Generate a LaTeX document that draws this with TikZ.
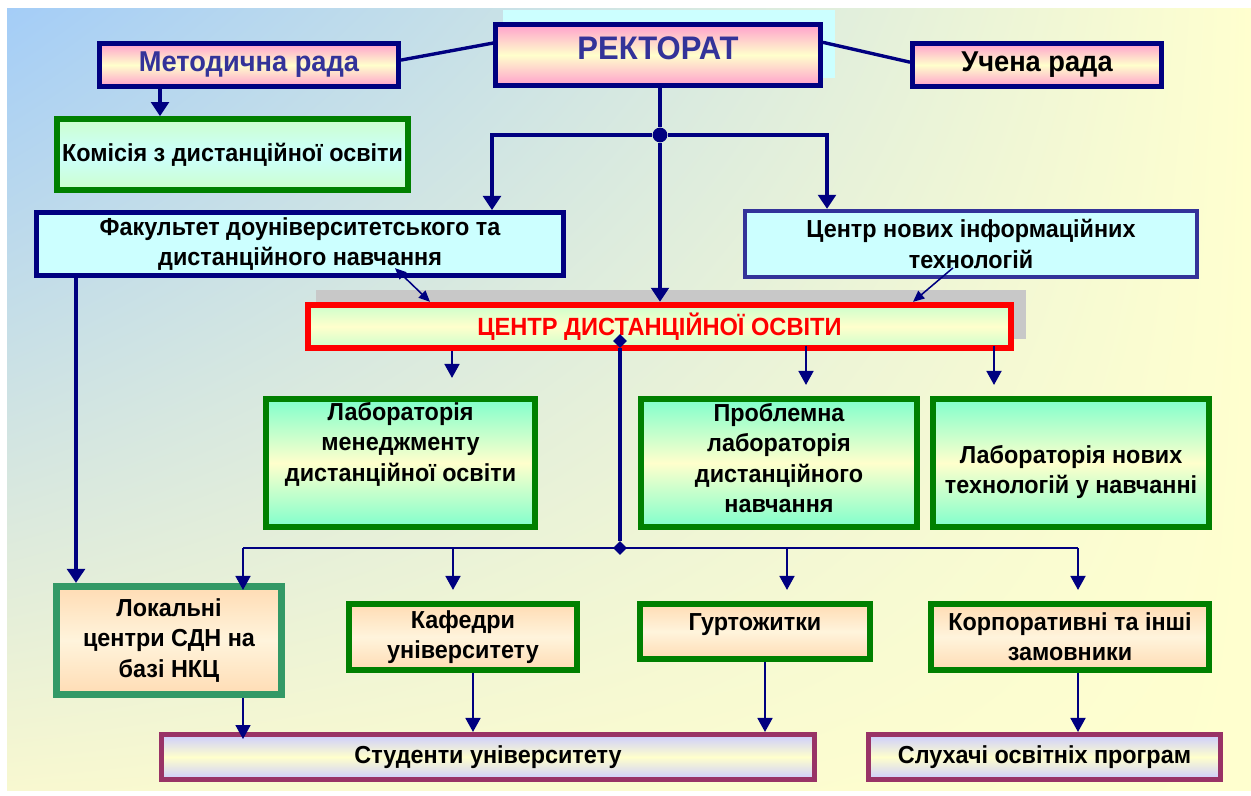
\documentclass[tikz,border=0pt]{standalone}
\usepackage{fontspec}
\setmainfont{Liberation Sans}[FakeStretch=0.95]
\usetikzlibrary{arrows.meta,shapes.geometric,shadings}
\definecolor{navyline}{HTML}{000080}
\definecolor{slateblue}{HTML}{333399}
\definecolor{darkgreen}{HTML}{008000}
\definecolor{seagreen}{HTML}{339966}
\definecolor{plum}{HTML}{993366}
\definecolor{pinkfill}{HTML}{FFA0CC}
\definecolor{paleyellow}{HTML}{FFFFCC}
\definecolor{palecyan}{HTML}{CCFFFF}
\definecolor{palegreen}{HTML}{CCFFCC}
\definecolor{aqua}{HTML}{80FFCC}
\definecolor{peach}{HTML}{FFDCB4}
\definecolor{lightpeach}{HTML}{FFF4DC}
\definecolor{lavender}{HTML}{CCCCFF}
\definecolor{bgblue}{HTML}{A4CDF7}
\definecolor{bgyellow}{HTML}{FFFFCF}
\definecolor{bgmid}{HTML}{F8F8D0}
\definecolor{shadowgray}{HTML}{C8C8C8}

\begin{document}
\begin{tikzpicture}[x=0.025cm,y=-0.025cm,
    box/.style={draw, align=center, inner sep=2pt, font=\bfseries\fontsize{17.5}{21.5}\selectfont},
    size/.style 2 args={minimum width=#1*0.025cm, minimum height=#2*0.025cm},
    pinkbox/.style={box, draw=navyline, line width=3.5pt, top color=pinkfill, bottom color=pinkfill, middle color=paleyellow, font=\bfseries\fontsize{20.4}{24}\selectfont},
    cyanbox/.style={box, draw=navyline, line width=3.5pt, fill=palecyan},
    greenbox/.style={box, draw=darkgreen, line width=4pt, top color=palegreen, bottom color=palegreen, middle color=palecyan},
    labbox/.style={box, draw=darkgreen, line width=4pt, top color=aqua, bottom color=aqua, middle color=paleyellow},
    peachbox/.style={box, draw=darkgreen, line width=4pt, top color=peach, bottom color=peach, middle color=lightpeach},
    studbox/.style={box, draw=plum, line width=3.5pt, top color=lavender, bottom color=lavender, middle color=paleyellow},
    link/.style={draw=navyline, line width=2pt},
    arrow/.style={link, line width=1.8pt, -{Triangle[length=10pt,width=10.5pt]}},
    bigarrow/.style={link, line width=2.6pt, -{Triangle[length=10pt,width=12.5pt]}},
    thinarrow/.style={link, line width=1.1pt, -{Triangle[length=8pt,width=7pt]}},
    dot/.style={circle, fill=navyline, inner sep=0pt, minimum size=10.5pt},
    dmd/.style={diamond, fill=navyline, inner sep=0pt, minimum size=10pt}
]
\useasboundingbox (0,0) rectangle (1251,796);
\fill[white] (0,0) rectangle (1251,796);
\shade[upper left=bgblue, upper right=bgyellow, lower left=bgmid, lower right=bgyellow] (7,8) rectangle (1251,790);

% top level
\fill[palecyan] (503,10) rectangle (835,78);
\node[pinkbox, size={325}{61}, text=slateblue, text depth=10pt, font=\bfseries\fontsize{23.2}{27}\selectfont] (rect) at (658,55) {РЕКТОРАТ};
\node[pinkbox, size={299}{43}, text=slateblue] (metod) at (249,65) {Методична рада};
\node[pinkbox, size={249}{43}] (uchena) at (1037,65) {Учена рада};
\node[greenbox, size={351}{71}] (komis) at (232.5,154.5) {Комісія з дистанційної освіти};

\node[cyanbox, size={527}{63}] (fak) at (300,244) {Факультет доуніверситетського та\\дистанційного навчання};
\node[cyanbox, draw=slateblue, line width=3pt, size={452}{66}] (cnit) at (971,244) {Центр нових інформаційних\\технологій};

% centre
\fill[shadowgray] (316,290) rectangle (1026,339);
\node[box, draw=red, line width=4.5pt, size={703}{43}, top color=palegreen, bottom color=palegreen, middle color=paleyellow, text=red, font=\bfseries\fontsize{17.7}{21}\selectfont] (cdo) at (659.5,326.5) {ЦЕНТР ДИСТАНЦІЙНОЇ ОСВІТИ};

\node[labbox, size={269}{128}, text depth=30pt] (lab1) at (400.5,463) {Лабораторія\\менеджменту\\дистанційної освіти};
\node[labbox, size={276}{128}, text depth=7pt] (lab2) at (779,463) {Проблемна\\лабораторія\\дистанційного\\навчання};
\node[labbox, size={276}{128}, text height=47pt] (lab3) at (1071,463) {Лабораторія нових\\технологій у навчанні};

% bottom row
\node[peachbox, draw=seagreen, line width=5pt, size={225}{108}] (lok) at (169,640.5) {Локальні\\центри СДН на\\базі НКЦ};
\node[peachbox, size={228}{66}] (kaf) at (463,637) {Кафедри\\університету};
\node[peachbox, size={230}{55}, text depth=14pt] (gurt) at (755,631.5) {Гуртожитки};
\node[peachbox, size={278}{66}] (korp) at (1070,637) {Корпоративні та інші\\замовники};

\node[studbox, size={653}{45}] (stud) at (488,757) {Студенти університету};
\node[studbox, size={352}{45}] (sluh) at (1044.5,757) {Слухачі освітніх програм};

% connectors
\coordinate (xm) at (160,0);
\coordinate (xl) at (76,0);
\coordinate (bl) at (492,135);
\coordinate (br) at (827,135);
\coordinate (fa) at (395,0);
\coordinate (ca) at (430,0);
\coordinate (na) at (953,0);
\coordinate (cb) at (913,0);
\coordinate (e1) at (452,378);
\coordinate (e2) at (806,385);
\coordinate (e3) at (994,385);
\coordinate (bus1) at (243,548);
\coordinate (bus2) at (1078,548);
\coordinate (k1) at (453,590);
\coordinate (k2) at (787,590);
\coordinate (k3) at (1078,590);
\coordinate (s1) at (473,0);
\coordinate (s2) at (765,0);

\draw[link, line width=2.4pt] ([yshift=3.5pt]metod.east) -- ([yshift=8.5pt]rect.west);
\draw[link, line width=2.4pt] ([yshift=9pt]rect.east) -- ([yshift=2pt]uchena.west);
\draw[bigarrow] (xm |- metod.south) -- (xm |- komis.north);

\node[dot] (dot) at (660,135) {};
\draw[link, line width=3.5pt] (rect.south -| dot) -- (dot);
\draw[bigarrow, line width=3.2pt] (dot) -- (dot |- cdo.north);
\draw[bigarrow] (dot) -- (bl) -- (bl |- fak.north);
\draw[bigarrow] (dot) -- (br) -- (br |- cnit.north);

\draw[thinarrow, {Triangle[length=8pt,width=7pt]}-{Triangle[length=8pt,width=7pt]}] ([yshift=7pt]fak.south -| fa) -- (cdo.north -| ca);
\draw[thinarrow] ([yshift=8pt]cnit.south -| na) -- (cdo.north -| cb);

\draw[arrow] (cdo.south -| e1) -- (e1);
\draw[arrow] ([yshift=4pt]cdo.south -| e2) -- (e2);
\draw[arrow] ([yshift=4pt]cdo.south -| e3) -- (e3);

\node[dmd] (d1) at (620,341) {};
\node[dmd] (d2) at (620,548) {};
\draw[link, line width=2.6pt] (d1) -- (d2);
\draw[link] (bus1) -- (bus2);
\draw[arrow] (bus1) -- ([yshift=-5pt]bus1 |- lok.north);
\draw[arrow] (k1 |- bus1) -- (k1);
\draw[arrow] (k2 |- bus1) -- (k2);
\draw[arrow] (bus2) -- (k3);
\draw[bigarrow] (xl |- fak.south) -- (xl |- lok.north);

\draw[arrow] (lok.south -| bus1) -- ([yshift=-5pt]stud.north -| bus1);
\draw[arrow] (kaf.south -| s1) -- (stud.north -| s1);
\draw[arrow] (gurt.south -| s2) -- (stud.north -| s2);
\draw[arrow] (korp.south -| k3) -- (sluh.north -| k3);
\end{tikzpicture}
\end{document}
